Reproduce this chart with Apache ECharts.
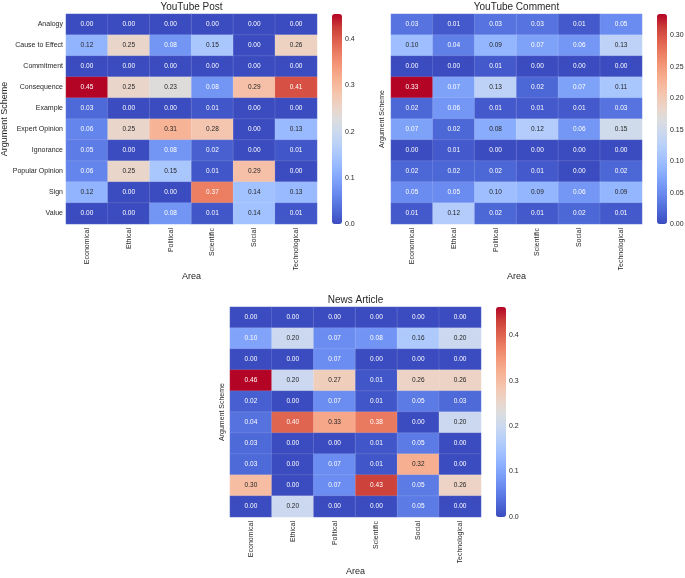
<!DOCTYPE html>
<html>
<head>
<meta charset="utf-8">
<script src="https://cdn.jsdelivr.net/npm/echarts@6/dist/echarts.min.js"></script>
<style>
html, body { margin: 0; padding: 0; background: #fff; }
#main { width: 685px; height: 578px; }
</style>
</head>
<body>
<div id="main"></div>
<script>
var areas = ['Economical', 'Ethical', 'Political', 'Scientific', 'Social', 'Technological'];
var schemes = ['Analogy', 'Cause to Effect', 'Commitment', 'Consequence', 'Example',
               'Expert Opinion', 'Ignorance', 'Popular Opinion', 'Sign', 'Value'];

// rows = schemes, columns = areas
var postValues = [
    [0.00, 0.00, 0.00, 0.00, 0.00, 0.00],
    [0.12, 0.25, 0.08, 0.15, 0.00, 0.26],
    [0.00, 0.00, 0.00, 0.00, 0.00, 0.00],
    [0.4545, 0.25, 0.23, 0.08, 0.29, 0.41],
    [0.03, 0.00, 0.00, 0.01, 0.00, 0.00],
    [0.06, 0.25, 0.31, 0.28, 0.00, 0.13],
    [0.05, 0.00, 0.08, 0.02, 0.00, 0.01],
    [0.06, 0.25, 0.15, 0.01, 0.29, 0.00],
    [0.12, 0.00, 0.00, 0.37, 0.14, 0.13],
    [0.00, 0.00, 0.08, 0.01, 0.14, 0.01]
];
var commentValues = [
    [0.03, 0.01, 0.03, 0.03, 0.01, 0.05],
    [0.10, 0.04, 0.09, 0.07, 0.06, 0.13],
    [0.00, 0.00, 0.01, 0.00, 0.00, 0.00],
    [0.334, 0.07, 0.13, 0.02, 0.07, 0.11],
    [0.02, 0.06, 0.01, 0.01, 0.01, 0.03],
    [0.07, 0.02, 0.08, 0.12, 0.06, 0.15],
    [0.00, 0.01, 0.00, 0.00, 0.00, 0.00],
    [0.02, 0.02, 0.02, 0.01, 0.00, 0.02],
    [0.05, 0.05, 0.10, 0.09, 0.06, 0.09],
    [0.01, 0.12, 0.02, 0.01, 0.02, 0.01]
];
var newsValues = [
    [0.00, 0.00, 0.00, 0.00, 0.00, 0.00],
    [0.10, 0.20, 0.07, 0.08, 0.16, 0.20],
    [0.00, 0.00, 0.07, 0.00, 0.00, 0.00],
    [0.462, 0.20, 0.27, 0.01, 0.26, 0.26],
    [0.02, 0.00, 0.07, 0.01, 0.05, 0.03],
    [0.04, 0.40, 0.33, 0.38, 0.00, 0.20],
    [0.03, 0.00, 0.00, 0.01, 0.05, 0.00],
    [0.03, 0.00, 0.07, 0.01, 0.32, 0.00],
    [0.30, 0.00, 0.07, 0.43, 0.05, 0.26],
    [0.00, 0.20, 0.00, 0.00, 0.05, 0.00]
];

var titles = ['YouTube Post', 'YouTube Comment', 'News Article'];
var cbTicks = [0.1, 0.05, 0.1];

// coolwarm
var coolwarm = ['#3b4cc0', '#4d68d7', '#6282ea', '#779af7', '#8db0fe', '#a3c2ff', '#b8d0f9', '#ccd9ee',
                '#dddddd', '#ecd3c5', '#f5c4ac', '#f7b193', '#f49a7b', '#ec7f63', '#de604d', '#cb3e38', '#b40426'];

function hexRgb(h) {
    return [parseInt(h.substr(1, 2), 16), parseInt(h.substr(3, 2), 16), parseInt(h.substr(5, 2), 16)];
}
function colorAt(t) {
    var p = Math.max(0, Math.min(1, t)) * (coolwarm.length - 1);
    var i = Math.min(Math.floor(p), coolwarm.length - 2), f = p - i;
    var a = hexRgb(coolwarm[i]), b = hexRgb(coolwarm[i + 1]);
    return [0, 1, 2].map(function (k) { return a[k] + (b[k] - a[k]) * f; });
}
function luminance(rgb) {
    var c = rgb.map(function (v) {
        v = v / 255;
        return v <= 0.03928 ? v / 12.92 : Math.pow((v + 0.055) / 1.055, 2.4);
    });
    return 0.2126 * c[0] + 0.7152 * c[1] + 0.0722 * c[2];
}

function maxOf(values) {
    return Math.max.apply(null, values.map(function (r) { return Math.max.apply(null, r); }));
}

function cells(values, vmax) {
    var out = [];
    values.forEach(function (row, y) {
        row.forEach(function (v, x) {
            var txt = luminance(colorAt(v / vmax)) > 0.408 ? '#262626' : '#ffffff';
            out.push({ value: [x, y, v], label: { color: txt } });
        });
    });
    return out;
}

var font = 'Liberation Sans, Arial, sans-serif';
var all = [postValues, commentValues, newsValues];
var maxes = all.map(maxOf);

var grids = [
    { left: 66, top: 14, width: 251, height: 210 },
    { left: 391, top: 14, width: 251, height: 210 },
    { left: 230, top: 307, width: 251, height: 210 }
];
var yNameGap = [57, 5, 4];
var yNameSize = [9, 7, 7];
var xNameGap = [48, 48, 50];

var option = {
    animation: false,
    textStyle: { fontFamily: font },
    title: [],
    grid: [],
    xAxis: [],
    yAxis: [],
    visualMap: [],
    series: []
};

grids.forEach(function (g, i) {
    option.title.push({
        text: titles[i],
        left: g.left + g.width / 2,
        top: g.top - 12,
        textAlign: 'center',
        padding: 0,
        textStyle: { fontSize: 10, fontWeight: 'normal', color: '#262626', fontFamily: font }
    });
    option.grid.push({ left: g.left, top: g.top, width: g.width, height: g.height, outerBoundsMode: 'none', containLabel: false });
    option.xAxis.push({
        type: 'category',
        gridIndex: i,
        data: areas,
        name: 'Area',
        nameLocation: 'middle',
        nameGap: xNameGap[i],
        nameMoveOverlap: false,
        nameTextStyle: { fontSize: 9, color: '#262626' },
        axisLine: { show: false },
        axisTick: { show: false },
        splitArea: { show: false },
        axisLabel: { rotate: 90, fontSize: 7, color: '#262626', margin: 4, interval: 0 }
    });
    option.yAxis.push({
        type: 'category',
        gridIndex: i,
        data: schemes,
        inverse: true,
        name: 'Argument Scheme',
        nameLocation: 'middle',
        nameRotate: 90,
        nameGap: yNameGap[i],
        nameMoveOverlap: false,
        nameTextStyle: { fontSize: yNameSize[i], color: '#262626' },
        axisLine: { show: false },
        axisTick: { show: false },
        splitArea: { show: false },
        axisLabel: { show: i === 0, fontSize: 7, color: '#262626', margin: 3, interval: 0 }
    });
    option.visualMap.push({
        type: 'continuous',
        seriesIndex: i,
        min: 0,
        max: maxes[i],
        calculable: false,
        left: g.left + g.width + 15,
        top: g.top,
        itemWidth: 10,
        itemHeight: g.height,
        padding: 0,
        text: null,
        inRange: { color: coolwarm }
    });
    option.series.push({
        type: 'heatmap',
        xAxisIndex: i,
        yAxisIndex: i,
        data: cells(all[i], maxes[i]),
        itemStyle: { borderColor: 'rgba(255,255,255,0.15)', borderWidth: 0.8 },
        label: {
            show: true,
            fontSize: 6.5,
            formatter: function (p) { return p.value[2].toFixed(2); }
        },
        emphasis: { disabled: true }
    });
});

// colorbar tick axes
grids.forEach(function (g, i) {
    var gi = option.grid.length;
    var step = cbTicks[i];
    option.grid.push({ left: g.left + g.width + 15, top: g.top, width: 10, height: g.height, outerBoundsMode: 'none', containLabel: false });
    option.xAxis.push({ type: 'category', gridIndex: gi, data: [''], show: false });
    option.yAxis.push({
        type: 'value',
        gridIndex: gi,
        position: 'right',
        min: 0,
        max: maxes[i],
        interval: step,
        axisLine: { show: false },
        axisTick: { show: false },
        splitLine: { show: false },
        axisLabel: {
            show: true,
            showMaxLabel: false,
            fontSize: 7,
            color: '#262626',
            margin: 3,
            formatter: function (v) { return v.toFixed(step < 0.1 ? 2 : 1); }
        }
    });
    option.series.push({ type: 'line', xAxisIndex: gi, yAxisIndex: gi, data: [], silent: true });
});

var myChart = echarts.init(document.getElementById('main'));
myChart.setOption(option);
</script>
</body>
</html>
